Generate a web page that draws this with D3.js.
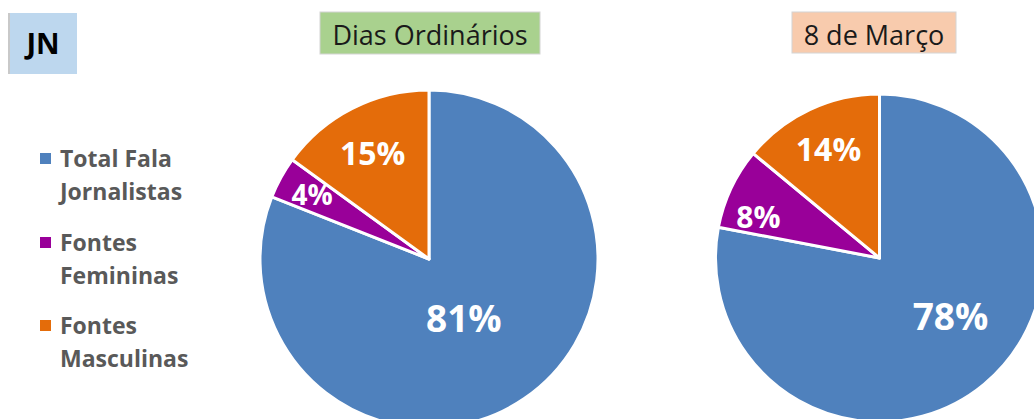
<!DOCTYPE html>
<html>
<head>
<meta charset="utf-8">
<script src="https://cdn.jsdelivr.net/npm/d3@7"></script>
<style>
  html, body { margin: 0; padding: 0; background: #ffffff; }
  svg { display: block; }
</style>
</head>
<body>
<svg id="chart" width="1034" height="419"></svg>
<script>
// ---- data ----
const categories = ["Total Fala Jornalistas", "Fontes Femininas", "Fontes Masculinas"];
const legendLines = [["Total Fala", "Jornalistas"], ["Fontes", "Femininas"], ["Fontes", "Masculinas"]];
const chartTitles = ["Dias Ordinários", "8 de Março"];
const diasOrdinarios = [81, 4, 15];
const oitoDeMarco = [78, 8, 14];
const badgeLabel = "JN";

// ---- styles / layout ----
const colors = ["#4f81bd", "#990099", "#e46c0a"];
const titleFills = ["#a9d18e", "#f8cbad"];
const FONT = "'Open Sans', 'Noto Sans', sans-serif";

const svg = d3.select("#chart");

// badge
svg.append("rect").attr("x", 8).attr("y", 13).attr("width", 69).attr("height", 61)
  .attr("fill", "#bdd7ee");
svg.append("rect").attr("x", 8).attr("y", 13).attr("width", 2).attr("height", 61)
  .attr("fill", "#c9c9c9");
svg.append("text").attr("x", 43).attr("y", 54).attr("text-anchor", "middle")
  .attr("font-family", FONT).attr("font-weight", 700).attr("font-size", 29)
  .attr("fill", "#000").text(badgeLabel);

// legend
const legend = svg.append("g");
const legendTop = [167, 251, 334];
legendLines.forEach((lines, i) => {
  legend.append("rect").attr("x", 40).attr("y", legendTop[i] - 14).attr("width", 11).attr("height", 11)
    .attr("fill", colors[i]);
  lines.forEach((ln, j) => {
    legend.append("text").attr("x", 60).attr("y", legendTop[i] + j * 33)
      .attr("font-family", FONT).attr("font-weight", 700).attr("font-size", 23)
      .attr("fill", "#595959").text(ln);
  });
});

// charts
const charts = [
  { values: diasOrdinarios, title: chartTitles[0], fill: titleFills[0],
    cx: 429, cy: 259, r: 169, box: [320, 12, 220, 42],
    labels: [{ f: 0.41, shift: 4, size: 37 }, { f: 0.79, shift: 0, size: 28 }, { f: 0.71, shift: -1, size: 32 }] },
  { values: oitoDeMarco, title: chartTitles[1], fill: titleFills[1],
    cx: 879.5, cy: 258, r: 164, box: [792, 12, 164, 41],
    labels: [{ f: 0.56, shift: -11, size: 37 }, { f: 0.78, shift: -6.5, size: 30 }, { f: 0.73, shift: 0, size: 32 }] }
];

const pie = d3.pie().sort(null).value(d => d);

charts.forEach(c => {
  // title box
  svg.append("rect").attr("x", c.box[0]).attr("y", c.box[1]).attr("width", c.box[2]).attr("height", c.box[3])
    .attr("fill", c.fill).attr("stroke", "#d4d4d4").attr("stroke-width", 1);
  svg.append("text").attr("x", c.box[0] + c.box[2] / 2).attr("y", c.box[1] + 33)
    .attr("text-anchor", "middle").attr("font-family", FONT).attr("font-size", 27)
    .attr("fill", "#1a1a1a").text(c.title);

  const g = svg.append("g").attr("transform", `translate(${c.cx},${c.cy})`);
  const arcs = pie(c.values);
  const arc = d3.arc().innerRadius(0).outerRadius(c.r);
  g.selectAll("path").data(arcs).join("path")
    .attr("d", arc).attr("fill", (d, i) => colors[i])
    .attr("stroke", "#ffffff").attr("stroke-width", 3).attr("stroke-linejoin", "round");

  g.selectAll("text").data(arcs).join("text")
    .attr("transform", (d, i) => {
      const L = c.labels[i];
      const a = (d.startAngle + d.endAngle) / 2 + L.shift * Math.PI / 180;
      const rr = c.r * L.f;
      return `translate(${rr * Math.sin(a)},${-rr * Math.cos(a)})`;
    })
    .attr("dy", "0.36em")
    .attr("text-anchor", "middle").attr("font-family", FONT).attr("font-weight", 700)
    .attr("font-size", (d, i) => c.labels[i].size)
    .attr("fill", "#ffffff").text(d => d.data + "%");
});
</script>
</body>
</html>
